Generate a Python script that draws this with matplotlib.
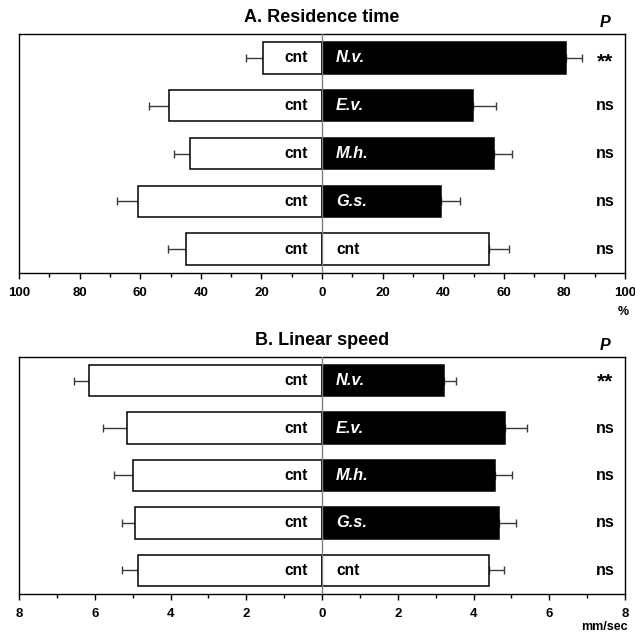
#!/usr/bin/env python3
"""Two-panel back-to-back bar chart: residence time and linear speed."""

import matplotlib
matplotlib.use('Agg')
import matplotlib.pyplot as plt
import numpy as np
from matplotlib.ticker import MultipleLocator

plt.rcParams['font.family'] = ['Liberation Sans', 'DejaVu Sans']
plt.rcParams['font.weight'] = 'bold'

# Data (top row first)
groups = ['N.v.', 'E.v.', 'M.h.', 'G.s.', 'cnt']
control_label = 'cnt'
significance = ['**', 'ns', 'ns', 'ns', 'ns']

# A. Residence time (%)
res_test = [80.5, 49.9, 56.8, 39.2, 55.2]
res_test_err = [5.3, 7.6, 5.8, 6.3, 6.6]
res_ctrl = [19.5, 50.4, 43.4, 60.8, 44.8]
res_ctrl_err = [5.6, 6.8, 5.4, 7.0, 5.9]
res_ticks = [-100, -80, -60, -40, -20, 0, 20, 40, 60, 80, 100]
res_ticklabels = ['100', '80', '60', '40', '20', '0', '20', '40', '60', '80', '100']

# B. Linear speed (mm/sec)
spd_test = [3.23, 4.82, 4.57, 4.68, 4.42]
spd_test_err = [0.32, 0.59, 0.44, 0.43, 0.39]
spd_ctrl = [6.16, 5.15, 5.00, 4.93, 4.85]
spd_ctrl_err = [0.40, 0.64, 0.50, 0.34, 0.42]
spd_ticks = [-8, -6, -4, -2, 0, 2, 4, 6, 8]
spd_ticklabels = ['8', '6', '4', '2', '0', '2', '4', '6', '8']

W, H = 635, 637


def draw_panel(ax, title, test, test_err, ctrl, ctrl_err, ticks, ticklabels,
               minor_step, unit, unit_pos, star_dy):
    n = len(groups)
    y = np.arange(n)[::-1]
    height = 0.66
    ctrl = np.array(ctrl)
    test = np.array(test)

    # error bars first so bars hide the inner caps
    ax.errorbar(-ctrl, y, xerr=[ctrl_err, np.zeros(n)], fmt='none',
                ecolor='#3a3a3a', elinewidth=1.0, capsize=2.7, capthick=1.0, zorder=1)
    ax.errorbar(test, y, xerr=[np.zeros(n), test_err], fmt='none',
                ecolor='#3a3a3a', elinewidth=1.0, capsize=2.7, capthick=1.0, zorder=1)

    ax.barh(y, -ctrl, height=height, color='white', edgecolor='black',
            linewidth=1.1, zorder=2)
    for i, g in enumerate(groups):
        is_ctrl = g == control_label
        ax.barh(y[i], test[i], height=height,
                color='white' if is_ctrl else 'black',
                edgecolor='black', linewidth=1.1, zorder=2)
        ax.annotate(control_label, xy=(0, y[i]), xytext=(-10, 0),
                    textcoords='offset points', ha='right', va='center',
                    fontsize=11.2, fontweight='bold', color='black', zorder=4)
        ax.annotate(g, xy=(0, y[i]), xytext=(10, 0),
                    textcoords='offset points', ha='left', va='center',
                    fontsize=11.2 if is_ctrl else 11.8, fontweight='bold',
                    fontstyle='normal' if is_ctrl else 'italic',
                    color='black' if is_ctrl else 'white', zorder=4)
        if significance[i] == 'ns':
            ax.text(0.967, y[i], 'ns', transform=ax.get_yaxis_transform(),
                    ha='center', va='center', fontsize=11.5, fontweight='bold')
        else:
            ax.annotate(significance[i], xy=(0.967, y[i]),
                        xycoords=ax.get_yaxis_transform(),
                        xytext=(0, star_dy), textcoords='offset points',
                        ha='center', va='center', fontsize=15, fontweight='bold')

    ax.axvline(0, color='#808080', linewidth=1.0, zorder=3)

    ax.set_xlim(ticks[0], ticks[-1])
    ax.set_ylim(-0.5, n - 0.5)
    ax.set_xticks(ticks)
    ax.set_xticklabels(ticklabels)
    ax.xaxis.set_minor_locator(MultipleLocator(minor_step))
    ax.set_yticks([])
    ax.tick_params(axis='x', which='major', direction='out', length=4,
                   width=1.0, pad=6, labelsize=9.5)
    ax.tick_params(axis='x', which='minor', direction='out', length=3, width=1.0)
    for lab in ax.get_xticklabels():
        lab.set_fontweight('bold')
    for sp in ax.spines.values():
        sp.set_linewidth(1.0)

    ax.text(0.5, 1.07, title, transform=ax.transAxes, ha='center', va='center',
            fontsize=13, fontweight='bold')
    ax.text(0.967, 1.05, 'P', transform=ax.transAxes, ha='center', va='center',
            fontsize=11.5, fontweight='bold', fontstyle='italic')
    ax.text(unit_pos[0], unit_pos[1], unit, transform=ax.transAxes, ha=unit_pos[2],
            va='center', fontsize=9, fontweight='bold')


fig = plt.figure(figsize=(W / 100, H / 100), dpi=100)
ax1 = fig.add_axes([19 / W, 1 - 273 / H, 606 / W, 239 / H])
ax2 = fig.add_axes([19 / W, 1 - 594 / H, 606 / W, 237 / H])

draw_panel(ax1, 'A. Residence time', res_test, res_test_err, res_ctrl, res_ctrl_err,
           res_ticks, res_ticklabels, 10, '%', (0.997, -0.163, 'center'), -3)
draw_panel(ax2, 'B. Linear speed', spd_test, spd_test_err, spd_ctrl, spd_ctrl_err,
           spd_ticks, spd_ticklabels, 1, 'mm/sec', (1.004, -0.14, 'right'), -1)

fig.savefig('out.png', dpi=100)
plt.close(fig)
